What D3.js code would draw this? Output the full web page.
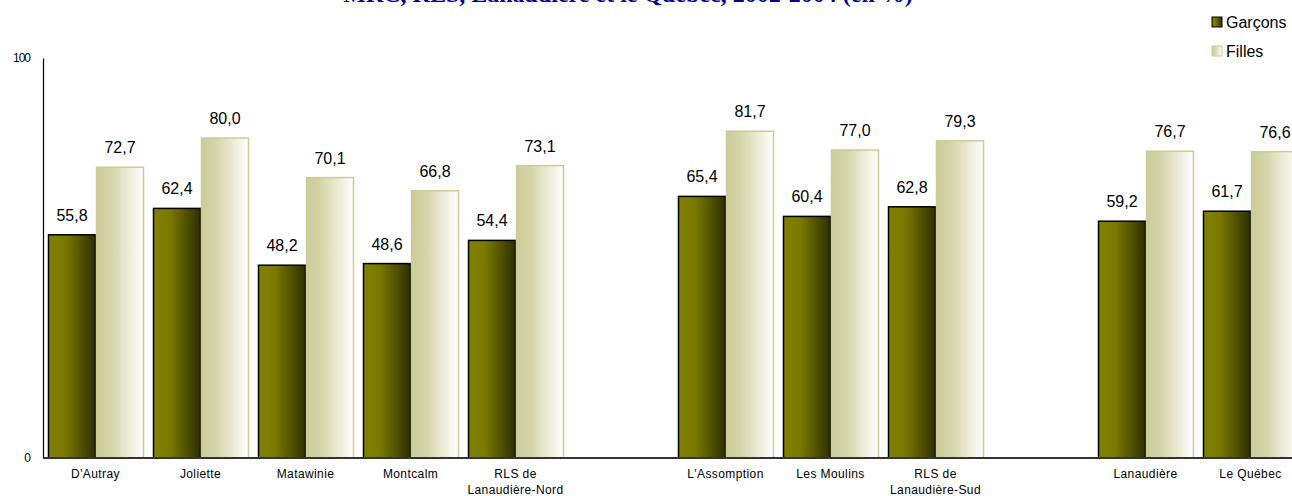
<!DOCTYPE html>
<html><head><meta charset="utf-8">
<script src="https://cdn.jsdelivr.net/npm/d3@7"></script>
<style>body{margin:0;background:#fff;overflow:hidden}</style>
</head><body>
<svg id="c" width="1292" height="496"></svg>
<script>
const categories = [["D'Autray"],["Joliette"],["Matawinie"],["Montcalm"],["RLS de","Lanaudière-Nord"],null,["L'Assomption"],["Les Moulins"],["RLS de","Lanaudière-Sud"],null,["Lanaudière"],["Le Québec"]];
const garcons = [55.8,62.4,48.2,48.6,54.4,null,65.4,60.4,62.8,null,59.2,61.7];
const filles  = [72.7,80.0,70.1,66.8,73.1,null,81.7,77.0,79.3,null,76.7,76.6];
const seriesNames = ["Garçons","Filles"];
const yTicks = [0,100];
const title = "MRC, RLS, Lanaudière et le Québec, 2002-2004 (en %)";

const svg = d3.select("#c");
const defs = svg.append("defs");
const g1 = defs.append("linearGradient").attr("id","gG").attr("x1","0").attr("x2","1").attr("y1","0").attr("y2","0");
g1.append("stop").attr("offset","0").attr("stop-color","#808000");
g1.append("stop").attr("offset","0.35").attr("stop-color","#7a7a00");
g1.append("stop").attr("offset","1").attr("stop-color","#2e2e00");
const g2 = defs.append("linearGradient").attr("id","gF").attr("x1","0").attr("x2","1").attr("y1","0").attr("y2","0");
g2.append("stop").attr("offset","0").attr("stop-color","#cccc99");
g2.append("stop").attr("offset","0.3").attr("stop-color","#d4d4a8");
g2.append("stop").attr("offset","1").attr("stop-color","#ffffff");

const idx = d3.range(categories.length);
const x0 = d3.scaleBand().domain(idx).range([43,1303]).padding(0);
const x1 = d3.scaleBand().domain(seriesNames).range([5,101]).padding(0);
const y = d3.scaleLinear().domain([0,100]).range([458,58]);

// title (clipped at top, as in the reference)
svg.append("text").attr("x",628).attr("y",1.5).attr("text-anchor","middle")
  .attr("font-family","Liberation Serif, Times New Roman, serif").attr("font-weight","bold")
  .attr("font-size",24).attr("fill","#000099").text(title);

const vals = [garcons, filles];
const fills = ["url(#gG)","url(#gF)"];
const strokes = ["#000000","#cccc99"];
seriesNames.forEach((s,si)=>{
  const data = idx.filter(i=>vals[si][i]!=null);
  svg.append("g").selectAll("rect").data(data).join("rect")
    .attr("x",i=>x0(i)+x1(s)+0.5)
    .attr("y",i=>y(vals[si][i]))
    .attr("width",x1.bandwidth()-1)
    .attr("height",i=>y(0)-y(vals[si][i]))
    .attr("fill",fills[si]).attr("stroke",strokes[si]).attr("stroke-width",1.5);
  svg.append("g").selectAll("text").data(data).join("text")
    .attr("x",i=>x0(i)+x1(s)+x1.bandwidth()/2)
    .attr("y",i=>y(vals[si][i])-14)
    .attr("text-anchor","middle")
    .attr("font-family","Liberation Sans, Arial, sans-serif").attr("font-size",16).attr("fill","#000")
    .text(i=>d3.format(".1f")(vals[si][i]).replace(".",","));
});

// axes
const yAxis = d3.axisLeft(y).tickValues(yTicks).tickSize(0).tickPadding(13);
const ya = svg.append("g").attr("transform","translate(43,0)").call(yAxis);
ya.select(".domain").attr("stroke","#000").attr("stroke-width",1.2);
ya.selectAll("text").attr("font-family","Liberation Sans, Arial, sans-serif").attr("font-size",12).attr("letter-spacing","-1px").attr("fill","#000");

svg.append("line").attr("x1",43).attr("x2",1292).attr("y1",y(0)).attr("y2",y(0)).attr("stroke","#333").attr("stroke-width",2);

const labs = svg.append("g").selectAll("text").data(idx.filter(i=>categories[i])).join("text")
  .attr("x",i=>x0(i)+x0.bandwidth()/2).attr("y",478)
  .attr("text-anchor","middle")
  .attr("font-family","Liberation Sans, Arial, sans-serif").attr("font-size",12).attr("letter-spacing","0.4px").attr("fill","#000");
labs.each(function(i){
  const t = d3.select(this);
  categories[i].forEach((line,k)=>{
    t.append("tspan").attr("x",x0(i)+x0.bandwidth()/2).attr("dy",k==0?0:16).text(line);
  });
});

// legend
const leg = svg.append("g");
seriesNames.forEach((s,si)=>{
  const yy = 22 + si*29;
  leg.append("rect").attr("x",1212).attr("y",yy-5).attr("width",10).attr("height",10)
    .attr("fill",fills[si]).attr("stroke",si==0?"#000":"#cccc99").attr("stroke-width",1);
  leg.append("text").attr("x",1226).attr("y",yy+5.5)
    .attr("font-family","Liberation Sans, Arial, sans-serif").attr("font-size",16).attr("fill","#000").text(s);
});
</script>
</body></html>
